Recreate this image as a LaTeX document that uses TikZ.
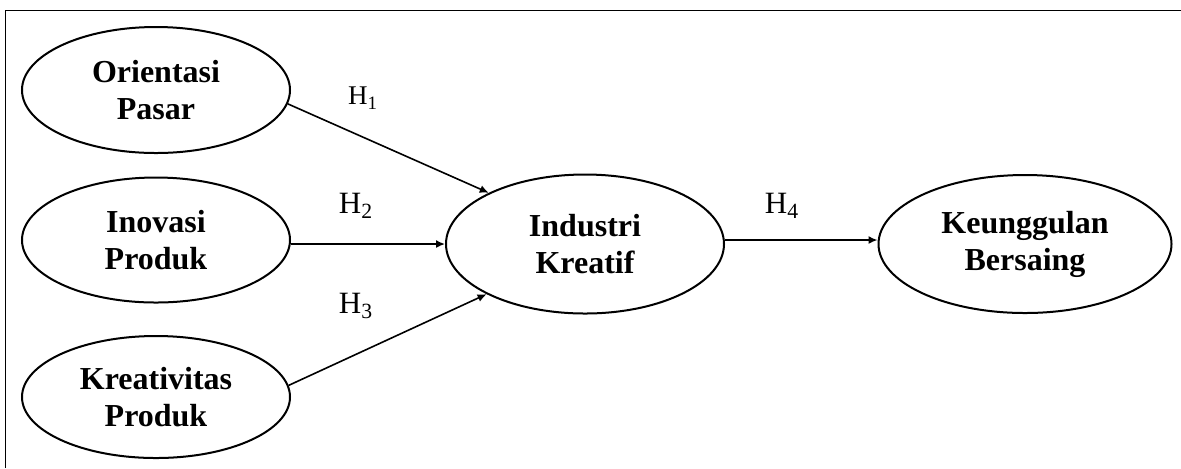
\documentclass[tikz,border=0pt]{standalone}
\usepackage{fontspec}
\setmainfont{Liberation Serif}
\usetikzlibrary{shapes.geometric, arrows.meta, positioning}
\tikzset{
  sem/var/.style={ellipse, draw=black, fill=white, line width=1pt,
    inner sep=0pt, align=center,
    font=\fontsize{16}{18.5}\selectfont\bfseries},
  sem/arr/.style={-{Latex[length=4.5pt,width=4pt]}, line width=0.8pt},
  sem/lbl/.style={font=\fontsize{15.5}{17}\selectfont, inner sep=1pt},
  sem/frame/.style={line width=0.5pt}
}
\begin{document}
\begin{tikzpicture}[x=0.5pt, y=-0.5pt]
  \useasboundingbox (0,0) rectangle (1181,468);
  \draw[sem/frame] (5,468) -- (5,10) -- (1181,10);

  \node[sem/var, minimum width=134pt, minimum height=63pt] (op) at (156,90) {Orientasi\\Pasar};
  \node[sem/var, minimum width=134pt, minimum height=62.5pt] (ip) at (156,240) {Inovasi\\Produk};
  \node[sem/var, minimum width=134pt, minimum height=61pt] (kp) at (156,397) {Kreativitas\\Produk};
  \node[sem/var, minimum width=139pt, minimum height=69.5pt] (ik) at (585,244) {Industri\\Kreatif};
  \node[sem/var, minimum width=146.5pt, minimum height=69pt] (kb) at (1025,244) {Keunggulan\\Bersaing};

  \node[sem/lbl, font=\fontsize{13.5}{15}\selectfont] (h1) at (363,98) {H\textsubscript{1}};
  \node[sem/lbl] (h2) at (356,206) {H\textsubscript{2}};
  \node[sem/lbl] (h3) at (356,306) {H\textsubscript{3}};
  \node[sem/lbl] (h4) at (782,206) {H\textsubscript{4}};

  \draw[sem/arr] (op.-6) -- (ik.152);
  \draw[sem/arr] (ip.east |- ik.west) -- (ik.west);
  \draw[sem/arr] (kp.5) -- (ik.207);
  \draw[sem/arr] (ik.east) ++(0,-4) coordinate (ike) -- (ike -| kb.west);
\end{tikzpicture}
\end{document}
